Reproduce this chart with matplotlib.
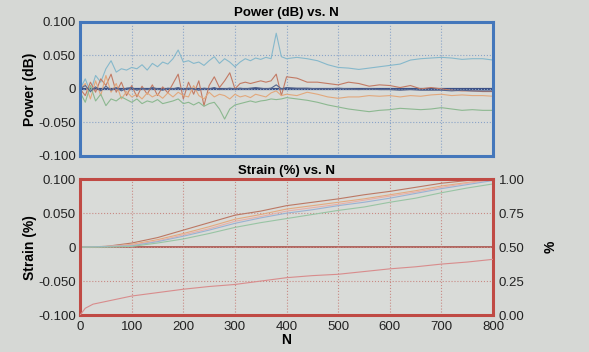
import numpy as np
import matplotlib.pyplot as plt

plt.rcParams['font.family'] = ['Liberation Sans', 'DejaVu Sans']

# ---- data: Power (dB) vs N ----
n_power = [0, 10, 20, 30, 40, 50, 60, 70, 80, 90, 100, 110, 120, 130, 140, 150, 160, 170, 180, 190,
           200, 210, 220, 230, 240, 250, 260, 270, 280, 290, 300, 310, 320, 330, 340, 350, 360, 370, 380, 390,
           400, 420, 440, 460, 480, 500, 520, 540, 560, 580, 600, 620, 640, 660, 680, 700, 720, 740, 760, 780, 800]

power_cyan = [0.0, 0.015, -0.005, 0.02, 0.01, 0.03, 0.042, 0.025, 0.03, 0.028, 0.032, 0.03, 0.036, 0.028, 0.038, 0.033, 0.04, 0.037, 0.045, 0.058,
              0.04, 0.042, 0.038, 0.04, 0.035, 0.042, 0.048, 0.038, 0.045, 0.04, 0.033, 0.04, 0.045, 0.042, 0.046, 0.044, 0.047, 0.045, 0.083, 0.048,
              0.045, 0.047, 0.045, 0.042, 0.036, 0.032, 0.031, 0.029, 0.031, 0.033, 0.035, 0.037, 0.043, 0.045, 0.046, 0.047, 0.046, 0.044, 0.045, 0.045, 0.043]

power_red = [0.0, -0.01, 0.01, -0.005, 0.015, 0.005, 0.022, -0.005, 0.01, -0.01, 0.005, -0.012, 0.004, -0.008, 0.006, -0.01, 0.003, -0.006, 0.008, 0.022,
             -0.015, 0.01, -0.008, 0.012, -0.025, 0.005, 0.018, 0.002, 0.012, 0.024, 0.0, 0.008, 0.01, 0.008, 0.01, 0.012, 0.01, 0.012, 0.022, -0.01,
             0.018, 0.016, 0.01, 0.01, 0.008, 0.006, 0.01, 0.008, 0.004, 0.006, 0.005, 0.002, 0.005, 0.0, 0.002, 0.0, -0.002, -0.003, -0.003, -0.004, -0.004]

power_orange = [0.0, 0.008, -0.015, 0.012, -0.01, 0.02, -0.005, 0.008, -0.015, -0.004, -0.012, -0.008, -0.015, -0.006, -0.012, -0.008, -0.014, -0.006, -0.012, -0.005,
                -0.01, -0.012, 0.005, -0.01, -0.015, -0.005, -0.012, -0.008, -0.01, -0.015, -0.008, -0.012, -0.01, -0.013, -0.008, -0.01, -0.012, -0.006, -0.003, -0.01,
                -0.008, -0.01, -0.005, -0.008, -0.012, -0.014, -0.012, -0.012, -0.01, -0.011, -0.01, -0.012, -0.01, -0.011, -0.009, -0.008, -0.01, -0.009, -0.01, -0.01, -0.011]

power_green = [-0.005, -0.02, 0.005, -0.018, -0.008, -0.025, -0.015, -0.018, -0.012, -0.016, -0.02, -0.015, -0.022, -0.018, -0.02, -0.016, -0.022, -0.02, -0.018, -0.015,
               -0.022, -0.02, -0.024, -0.02, -0.026, -0.022, -0.02, -0.03, -0.045, -0.03, -0.024, -0.022, -0.02, -0.018, -0.02, -0.018, -0.017, -0.015, -0.016, -0.015,
               -0.013, -0.015, -0.017, -0.02, -0.024, -0.027, -0.03, -0.032, -0.034, -0.032, -0.031, -0.029, -0.03, -0.031, -0.03, -0.028, -0.03, -0.032, -0.031, -0.032, -0.032]

power_navy = [0.0, 0.005, -0.004, 0.003, -0.003, 0.004, -0.002, 0.002, -0.003, 0.001, 0.002, -0.002, 0.001, -0.001, 0.002, 0.0, -0.002, 0.001, 0.0, 0.002,
              -0.001, 0.001, 0.0, -0.002, 0.001, 0.0, 0.002, -0.001, 0.0, 0.001, 0.0, 0.001, 0.0, 0.001, 0.002, 0.001, 0.0, 0.001, 0.006, 0.0,
              0.002, 0.001, 0.001, 0.0, 0.0, 0.001, 0.0, -0.001, 0.0, -0.001, -0.001, -0.002, -0.001, -0.002, -0.002, -0.002, -0.003, -0.002, -0.003, -0.003, -0.003]

# ---- data: Strain (%) vs N ----
n_strain = [0, 50, 100, 150, 200, 250, 300, 350, 400, 450, 500, 550, 600, 650, 700, 750, 800]
strain_brown = [0.0, 0.001, 0.006, 0.014, 0.025, 0.036, 0.047, 0.053, 0.061, 0.066, 0.071, 0.077, 0.082, 0.088, 0.094, 0.098, 0.1]
strain_orange = [0.0, 0.001, 0.004, 0.011, 0.02, 0.03, 0.041, 0.048, 0.056, 0.061, 0.066, 0.071, 0.077, 0.083, 0.09, 0.095, 0.1]
strain_pink = [0.0, 0.001, 0.003, 0.009, 0.018, 0.027, 0.038, 0.045, 0.053, 0.058, 0.063, 0.069, 0.075, 0.081, 0.088, 0.094, 0.099]
strain_blue = [0.0, 0.001, 0.002, 0.008, 0.016, 0.025, 0.035, 0.043, 0.05, 0.055, 0.061, 0.066, 0.072, 0.079, 0.086, 0.092, 0.098]
strain_green = [0.0, 0.0, 0.001, 0.006, 0.012, 0.02, 0.029, 0.036, 0.042, 0.048, 0.054, 0.059, 0.066, 0.072, 0.08, 0.087, 0.093]

n_pct = [0, 10, 25, 50, 75, 100, 150, 200, 250, 300, 350, 400, 450, 500, 550, 600, 650, 700, 750, 800]
pct_line = [0.0, 0.05, 0.08, 0.10, 0.12, 0.14, 0.165, 0.19, 0.21, 0.225, 0.25, 0.275, 0.29, 0.30, 0.32, 0.34, 0.355, 0.375, 0.39, 0.41]

bg = '#d6d8d5'
fig = plt.figure(figsize=(5.89, 3.52), dpi=100, facecolor=bg)

# ---- top panel ----
ax1 = fig.add_axes([0.136, 0.557, 0.701, 0.381], facecolor='#d9dbd8')
ax1.axhline(0, color='#3a4f85', lw=1.6, zorder=1)
ax1.plot(n_power, power_cyan, color='#86b8cb', lw=0.8)
ax1.plot(n_power, power_red, color='#c27a64', lw=0.8)
ax1.plot(n_power, power_orange, color='#e2a87c', lw=0.8)
ax1.plot(n_power, power_green, color='#8cb890', lw=0.8)
ax1.plot(n_power, power_navy, color='#56668e', lw=0.8)
ax1.set_xlim(0, 800)
ax1.set_ylim(-0.1, 0.1)
ax1.set_yticks([-0.1, -0.05, 0, 0.05, 0.1])
ax1.set_yticklabels(['-0.100', '-0.050', '0', '0.050', '0.100'])
ax1.set_xticks(range(0, 801, 100))
ax1.tick_params(axis='x', labelbottom=False, length=0)
ax1.tick_params(axis='y', length=0, labelsize=9.5, colors='#222222', pad=3)
ax1.grid(True, ls=':', color='#8aa4c8', lw=0.8)
for s in ax1.spines.values():
    s.set_color('#4477bb')
    s.set_linewidth(2.2)
ax1.set_title('Power (dB) vs. N', fontsize=9.5, fontweight='bold', pad=4)
ax1.set_ylabel('Power (dB)', fontsize=10, fontweight='bold', labelpad=1)

# ---- bottom panel ----
ax2 = fig.add_axes([0.136, 0.105, 0.701, 0.386], facecolor='#d9dbd8')
ax2.axhline(0, color='#a8504a', lw=1.2, zorder=1)
ax2.plot(n_strain, strain_brown, color='#bc7864', lw=0.8)
ax2.plot(n_strain, strain_orange, color='#e4aa80', lw=0.8)
ax2.plot(n_strain, strain_pink, color='#e6b0aa', lw=0.8)
ax2.plot(n_strain, strain_blue, color='#9ab2d2', lw=0.8)
ax2.plot(n_strain, strain_green, color='#98c4a4', lw=0.8)
ax2.set_xlim(0, 800)
ax2.set_ylim(-0.1, 0.1)
ax2.set_xticks(range(0, 801, 100))
ax2.set_yticks([-0.1, -0.05, 0, 0.05, 0.1])
ax2.set_yticklabels(['-0.100', '-0.050', '0', '0.050', '0.100'])
ax2.tick_params(length=0, labelsize=9.5, colors='#222222', pad=3)
ax2.tick_params(axis='x', pad=4)
ax2.grid(True, ls=':', color='#c88a84', lw=0.8)
for s in ax2.spines.values():
    s.set_color('#c04a44')
    s.set_linewidth(2.2)
ax2.set_title('Strain (%) vs. N', fontsize=9.5, fontweight='bold', pad=4)
ax2.set_ylabel('Strain (%)', fontsize=10, fontweight='bold', labelpad=1)
ax2.set_xlabel('N', fontsize=10, fontweight='bold', labelpad=0)

ax3 = ax2.twinx()
ax3.plot(n_pct, pct_line, color='#d88c8c', lw=0.8)
ax3.set_ylim(0, 1)
ax3.set_yticks([0, 0.25, 0.5, 0.75, 1.0])
ax3.set_yticklabels(['0.00', '0.25', '0.50', '0.75', '1.00'])
ax3.tick_params(length=0, labelsize=9.5, colors='#222222', pad=4)
ax3.set_ylabel('%', fontsize=10, fontweight='bold', labelpad=14)
for s in ax3.spines.values():
    s.set_visible(False)

fig.savefig('out.png', dpi=100, facecolor=bg)
